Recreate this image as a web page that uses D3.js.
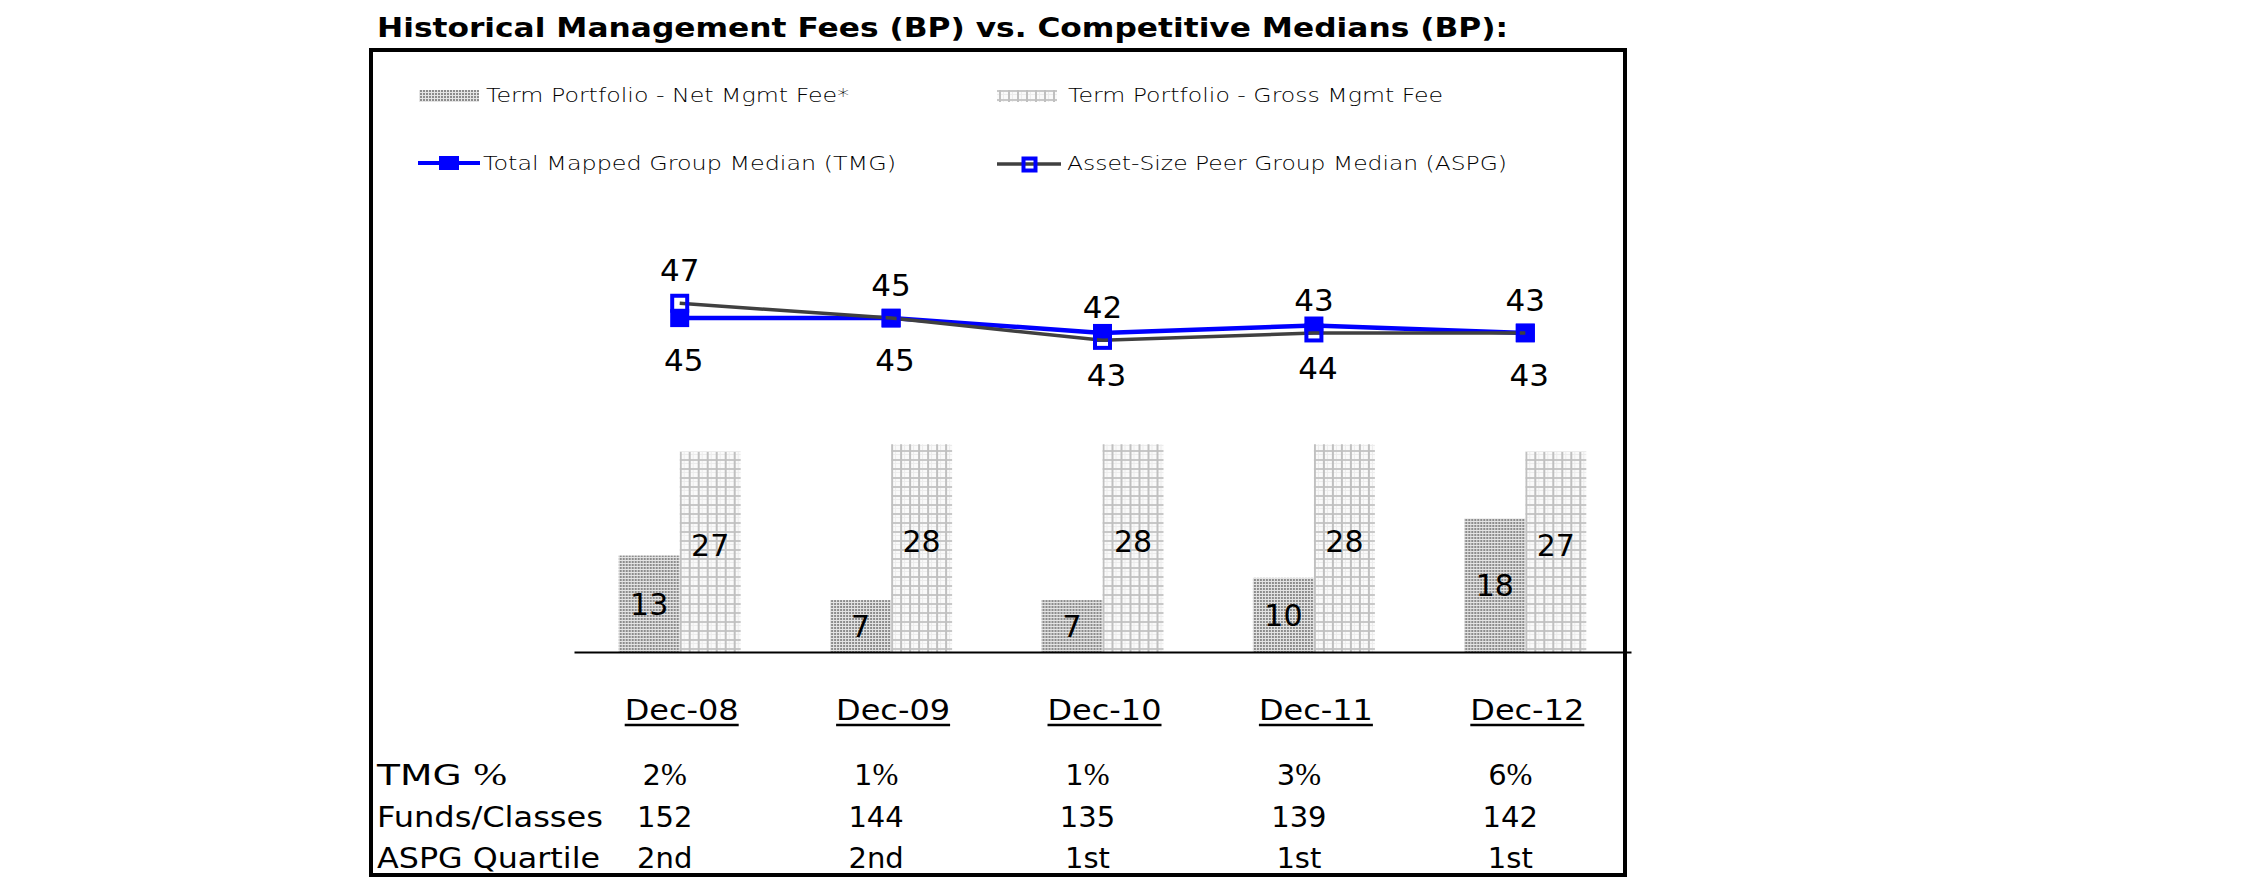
<!DOCTYPE html>
<html><head><meta charset="utf-8">
<script src="https://cdn.jsdelivr.net/npm/d3@7"></script>
<style>
html,body{margin:0;padding:0;background:#fff;}
svg{display:block;}
text{font-family:"DejaVu Sans",Verdana,sans-serif;fill:#000;}
</style></head><body>
<svg id="chart" width="2250" height="895"></svg>
<script>
// ---------- data ----------
const categories = ["Dec-08","Dec-09","Dec-10","Dec-11","Dec-12"];
const netFee = [13,7,7,10,18];
const grossFee = [27,28,28,28,27];
const tmgMedian = [45,45,43,44,43];
const aspgMedian = [47,45,42,43,43];
const tmgPct = ["2%","1%","1%","3%","6%"];
const fundsClasses = ["152","144","135","139","142"];
const aspgQuartile = ["2nd","2nd","1st","1st","1st"];
const rowLabels = ["TMG %","Funds/Classes","ASPG Quartile"];
const seriesNames = ["Term Portfolio - Net Mgmt Fee*","Term Portfolio - Gross Mgmt Fee",
                     "Total Mapped Group Median (TMG)","Asset-Size Peer Group Median (ASPG)"];
const title = "Historical Management Fees (BP) vs. Competitive Medians (BP):";

// ---------- setup ----------
const svg = d3.select("#chart");
const defs = svg.append("defs");

// net pattern: dense dots
const pNet = defs.append("pattern").attr("id","netPat").attr("patternUnits","userSpaceOnUse")
  .attr("width",3).attr("height",3);
pNet.append("rect").attr("width",3).attr("height",3).attr("fill","#e4e4e4");
pNet.append("rect").attr("width",2).attr("height",2).attr("fill","#8c8c8c");

// gross pattern: light grid
const pGross = defs.append("pattern").attr("id","grossPat").attr("patternUnits","userSpaceOnUse")
  .attr("width",9).attr("height",9);
pGross.append("rect").attr("width",9).attr("height",9).attr("fill","#fafafa");
pGross.append("rect").attr("x",4).attr("width",1).attr("height",9).attr("fill","#ececec");
pGross.append("rect").attr("y",4).attr("width",9).attr("height",1).attr("fill","#ececec");
pGross.append("rect").attr("width",9).attr("height",2).attr("fill","#c8c8c8");
pGross.append("rect").attr("width",2).attr("height",9).attr("fill","#c0c0c0");

// scales
const x = d3.scaleBand().domain(categories).range([574, 1631]).padding(0);
const cx = c => x(c) + x.bandwidth()/2;
const xInner = d3.scaleBand().domain(["net","gross"]).range([-61, 61]).padding(0);
const y = d3.scaleLinear().domain([0, 50]).range([652, 281]);

// title
svg.append("text").attr("x",377).attr("y",37)
  .attr("font-size",27).attr("font-weight","bold")
  .attr("textLength",1131).attr("lengthAdjust","spacingAndGlyphs")
  .text(title);

// frame
svg.append("rect").attr("x",371).attr("y",50).attr("width",1254).attr("height",825)
  .attr("fill","none").attr("stroke","#000").attr("stroke-width",4);

// ---------- legend ----------
const leg = svg.append("g");
const legItems = [
  {name:seriesNames[0], kind:"bar", fill:"url(#netPat)", sx:419, tx:486, ty:102, w:363},
  {name:seriesNames[1], kind:"bar", fill:"url(#grossPat)", sx:997, tx:1068, ty:102, w:375},
  {name:seriesNames[2], kind:"tmg", sx:418, tx:483, ty:170, w:413},
  {name:seriesNames[3], kind:"aspg", sx:997, tx:1067, ty:170, w:440}
];
legItems.forEach(d=>{
  if(d.kind==="bar"){
    leg.append("rect").attr("x",d.sx).attr("y",90).attr("width",60).attr("height",12).attr("fill",d.fill);
  } else if(d.kind==="tmg"){
    leg.append("line").attr("x1",d.sx).attr("x2",d.sx+62).attr("y1",163).attr("y2",163)
      .attr("stroke","#0000ff").attr("stroke-width",4);
    leg.append("rect").attr("x",d.sx+21).attr("y",156).attr("width",20).attr("height",14).attr("fill","#0000ff");
  } else {
    leg.append("line").attr("x1",d.sx).attr("x2",d.sx+64).attr("y1",164).attr("y2",164)
      .attr("stroke","#404040").attr("stroke-width",3.5);
    leg.append("rect").attr("x",d.sx+26.5).attr("y",158.5).attr("width",12).attr("height",12)
      .attr("fill","none").attr("stroke","#0000ff").attr("stroke-width",4);
  }
  leg.append("text").attr("x",d.tx).attr("y",d.ty).attr("font-size",19).attr("font-weight",300)
    .attr("textLength",d.w).attr("lengthAdjust","spacingAndGlyphs").text(d.name);
});

// ---------- bars ----------
const barData = categories.map((c,i)=>({c, net:netFee[i], gross:grossFee[i]}));
const groups = svg.append("g").selectAll("g").data(barData).join("g")
  .attr("transform", d=>`translate(${cx(d.c)},0)`);
groups.append("rect").attr("x",xInner("net")).attr("width",xInner.bandwidth())
  .attr("y",d=>y(d.net)).attr("height",d=>y(0)-y(d.net)).attr("fill","url(#netPat)");
groups.append("rect").attr("x",xInner("gross")).attr("width",xInner.bandwidth())
  .attr("y",d=>y(d.gross)).attr("height",d=>y(0)-y(d.gross)).attr("fill","url(#grossPat)");
groups.append("text").attr("text-anchor","middle").attr("font-size",30)
  .attr("x",xInner("net")+xInner.bandwidth()/2)
  .attr("y",d=>(y(d.net)+y(0))/2+11).text(d=>d.net);
groups.append("text").attr("text-anchor","middle").attr("font-size",30)
  .attr("x",xInner("gross")+xInner.bandwidth()/2)
  .attr("y",d=>(y(d.gross)+y(0))/2+4).text(d=>d.gross);

// axis baseline
svg.append("g").attr("transform","translate(0,652)")
  .call(d3.axisBottom(x).tickSize(0).tickSizeOuter(0).tickFormat(""))
  .call(g=>g.select(".domain").attr("stroke","#000").attr("stroke-width",2));

// ---------- lines ----------
const lineGen = d3.line().x((d,i)=>cx(categories[i])).y(d=>y(d));
svg.append("path").datum(tmgMedian).attr("d",lineGen).attr("fill","none")
  .attr("stroke","#0000ff").attr("stroke-width",4.5);
svg.append("g").selectAll("rect").data(tmgMedian).join("rect")
  .attr("x",(d,i)=>cx(categories[i])-9.5).attr("y",d=>y(d)-9)
  .attr("width",19).attr("height",18).attr("fill","#0000ff");
svg.append("path").datum(aspgMedian).attr("d",lineGen).attr("fill","none")
  .attr("stroke","#404040").attr("stroke-width",3.5);
svg.append("g").selectAll("rect").data(aspgMedian).join("rect")
  .attr("x",(d,i)=>cx(categories[i])-7.5).attr("y",d=>y(d)-7.5)
  .attr("width",15).attr("height",15).attr("fill","none")
  .attr("stroke","#0000ff").attr("stroke-width",4);

// line labels: ASPG above, TMG below
svg.append("g").selectAll("text").data(aspgMedian).join("text")
  .attr("text-anchor","middle").attr("font-size",31)
  .attr("x",(d,i)=>cx(categories[i])).attr("y",d=>y(d)-22).text(d=>d);
svg.append("g").selectAll("text").data(tmgMedian).join("text")
  .attr("text-anchor","middle").attr("font-size",31)
  .attr("x",(d,i)=>cx(categories[i])+4).attr("y",d=>y(d)+53).text(d=>d);

// ---------- table ----------
const tbl = svg.append("g");
tbl.selectAll("text.hdr").data(categories).join("text").attr("class","hdr")
  .attr("text-anchor","middle").attr("font-size",28)
  .attr("x",d=>cx(d)+2).attr("y",720)
  .attr("textLength",114).attr("lengthAdjust","spacingAndGlyphs").text(d=>d);
tbl.selectAll("line.ul").data(categories).join("line").attr("class","ul")
  .attr("x1",d=>cx(d)+2-57).attr("x2",d=>cx(d)+2+57).attr("y1",725).attr("y2",725)
  .attr("stroke","#000").attr("stroke-width",2.5);

const rowsY = [785, 827, 868];
const rowVals = [tmgPct, fundsClasses, aspgQuartile];
const rowW = [130, 226, 223];
rowLabels.forEach((lab,r)=>{
  const t = tbl.append("text").attr("x",377).attr("y",rowsY[r]).attr("font-size",29)
    .attr("textLength",rowW[r]).attr("lengthAdjust","spacingAndGlyphs");
  if(lab.endsWith("%")){
    t.append("tspan").text(lab.slice(0,-1));
    t.append("tspan").attr("font-family","Liberation Serif").attr("font-size",31).text("%");
  } else t.text(lab);
  rowVals[r].forEach((v,i)=>{
    const tv = tbl.append("text").attr("text-anchor","middle").attr("font-size",29)
      .attr("x",cx(categories[i])-15).attr("y",rowsY[r]);
    if(String(v).endsWith("%")){
      tv.append("tspan").text(String(v).slice(0,-1));
      tv.append("tspan").attr("font-family","Liberation Serif").attr("font-size",31).text("%");
    } else tv.text(v);
  });
});
</script>
</body></html>
